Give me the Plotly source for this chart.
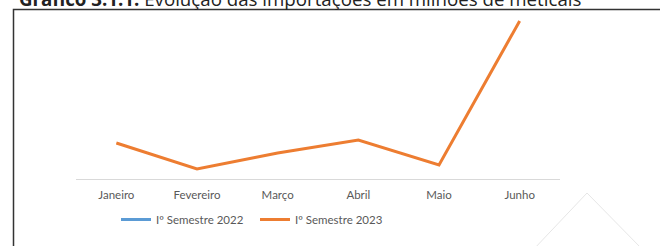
import plotly.graph_objects as go

months = ["Janeiro", "Fevereiro", "Março", "Abril", "Maio", "Junho"]
s2022 = [None, None, None, None, None, None]
s2023 = [3600, 1000, 2600, 3900, 1400, 15800]
names = ["Iº Semestre 2022", "Iº Semestre 2023"]

W, H = 660, 246
# plot area in window pixels
X0, X1, Y0, Y1 = 76, 560, 14, 179
L, R, T, B = X0, W - X1, Y0, H - Y1
pw, ph = X1 - X0, Y1 - Y0

def px(x):
    return (x - X0) / pw

def py(y):
    return 1 + (Y0 - y) / ph

fig = go.Figure()
fig.add_trace(go.Scatter(x=months, y=s2022, name=names[0], mode="lines",
                         line=dict(color="#5B9BD5", width=3)))
fig.add_trace(go.Scatter(x=months, y=s2023, name=names[1], mode="lines",
                         line=dict(color="#ED7D31", width=3)))

font = "Lato, 'Open Sans', sans-serif"
fig.update_layout(
    width=W, height=H,
    margin=dict(l=L, r=R, t=T, b=B, pad=0),
    paper_bgcolor="white", plot_bgcolor="white",
    showlegend=True,
    legend=dict(orientation="h", x=px(116), y=py(205), xanchor="left", yanchor="top",
                entrywidth=94,
                font=dict(family=font, size=11.5, color="#595959"),
                bgcolor="rgba(0,0,0,0)"),
    xaxis=dict(range=[-0.5, 5.5], showgrid=False, showline=True, linecolor="#d9d9d9",
               linewidth=1, ticks="", zeroline=False, ticklabelstandoff=5,
               tickfont=dict(family=font, size=11.5, color="#595959")),
    yaxis=dict(range=[0, 16500], visible=False, showgrid=False, zeroline=False),
)

fig.add_annotation(text="<b>Gráfico 3.1.1:</b> Evolução das importações em milhões de meticais",
                   xref="paper", yref="paper", x=px(17), y=py(-2), xanchor="left", yanchor="middle",
                   showarrow=False, font=dict(family="'Open Sans', sans-serif", size=18.7, color="#222"))

fig.add_shape(type="rect", xref="paper", yref="paper",
              x0=px(13.5), x1=px(690), y0=py(280), y1=py(9.5),
              line=dict(color="#333333", width=1.5))
fig.add_shape(type="line", xref="paper", yref="paper",
              x0=px(587), y0=py(193), x1=px(533), y1=py(250),
              line=dict(color="#e6e6e6", width=1))
fig.add_shape(type="line", xref="paper", yref="paper",
              x0=px(587), y0=py(193), x1=px(643), y1=py(250),
              line=dict(color="#e6e6e6", width=1))

fig.write_html("out.html", config={"displayModeBar": False},
               post_script="document.body.style.margin='0';document.body.style.overflow='hidden';")
